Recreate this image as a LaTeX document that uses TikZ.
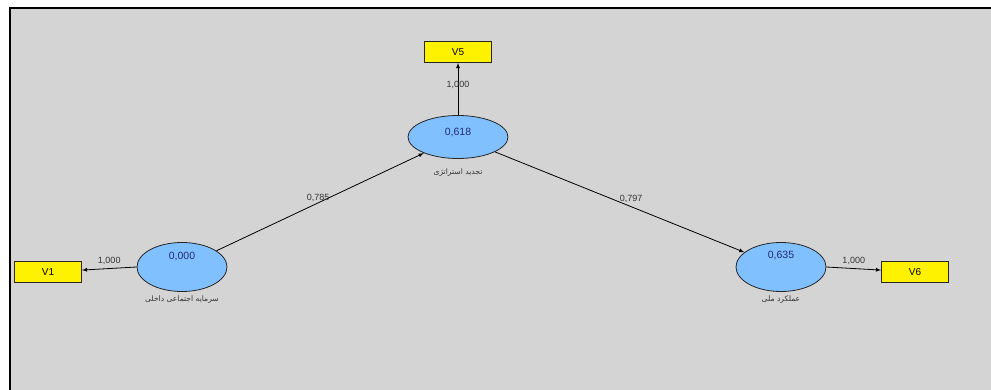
\documentclass[tikz,border=0pt]{standalone}
\usepackage{fontspec}
\setmainfont{Liberation Sans}
\newfontfamily\farsifont[Script=Arabic]{DejaVu Sans}
\TeXXeTstate=1
\usetikzlibrary{shapes.geometric}
\definecolor{panelgray}{RGB}{212,212,212}
\definecolor{latentblue}{RGB}{128,192,255}
\definecolor{valblue}{RGB}{35,45,110}
\begin{document}
\begin{tikzpicture}[
    x=1pt, y=-1pt,
    every path/.style={>=latex},
    inner sep=0pt,
    line width=0.8pt,
    font=\fontsize{9}{10}\selectfont,
    lv/.style={draw=black!85,ellipse,fill=latentblue,minimum width=90pt,minimum height=49pt},
    mv/.style={draw=black!85,rectangle,fill=yellow,minimum width=67pt,minimum height=21pt,font=\fontsize{10}{11}\selectfont},
    val/.style={text=valblue,font=\fontsize{10.5}{12}\selectfont},
    lvname/.style={text=black!80,font=\farsifont\fontsize{7.6}{9}\selectfont},
    coef/.style={text=black!80,font=\fontsize{9}{10}\selectfont}
    ]

    % frame
    \useasboundingbox (0,0) rectangle (991,390);
    \fill[panelgray] (10,8) rectangle (991,390);
    \draw[line width=2pt] (10,390) -- (10,8) -- (991,8);

    % nodes
    \node[lv,minimum width=100pt,minimum height=43pt] (strat) at (458,137) {};
    \node[lv] (social) at (182,267) {};
    \node[lv] (perf) at (781,267) {};

    \node[mv] (v5) at (458,52) {V5};
    \node[mv] (v1) at (48,272) {V1};
    \node[mv] (v6) at (915,272) {V6};

    % values and names
    \node[val] (rstrat) at (458,133) {0,618};
    \node[val] (rsocial) at (182,257) {0,000};
    \node[val] (rperf) at (781,256) {0,635};

    \node[lvname] (nstrat) at (458,173) {\beginR تجدید استراتژی\endR};
    \node[lvname] (nsocial) at (182,300) {\beginR سرمایه اجتماعی داخلی\endR};
    \node[lvname] (nperf) at (781,300) {\beginR عملکرد ملی\endR};

    % edges
    \draw[->] (strat) -- node[coef,pos=0.58] {1,000} (v5);
    \draw[->] (social.west) -- node[coef,above=3pt] {1,000} (v1);
    \draw[->] (perf.east) -- node[coef,above=3pt] {1,000} (v6);

    \draw[->] (social) -- node[coef,midway,above,xshift=-2pt] {0,785} (strat);
    \draw[->] (strat) -- node[coef,pos=0.53,above=2pt,xshift=4pt] {0,797} (perf);

\end{tikzpicture}
\end{document}
